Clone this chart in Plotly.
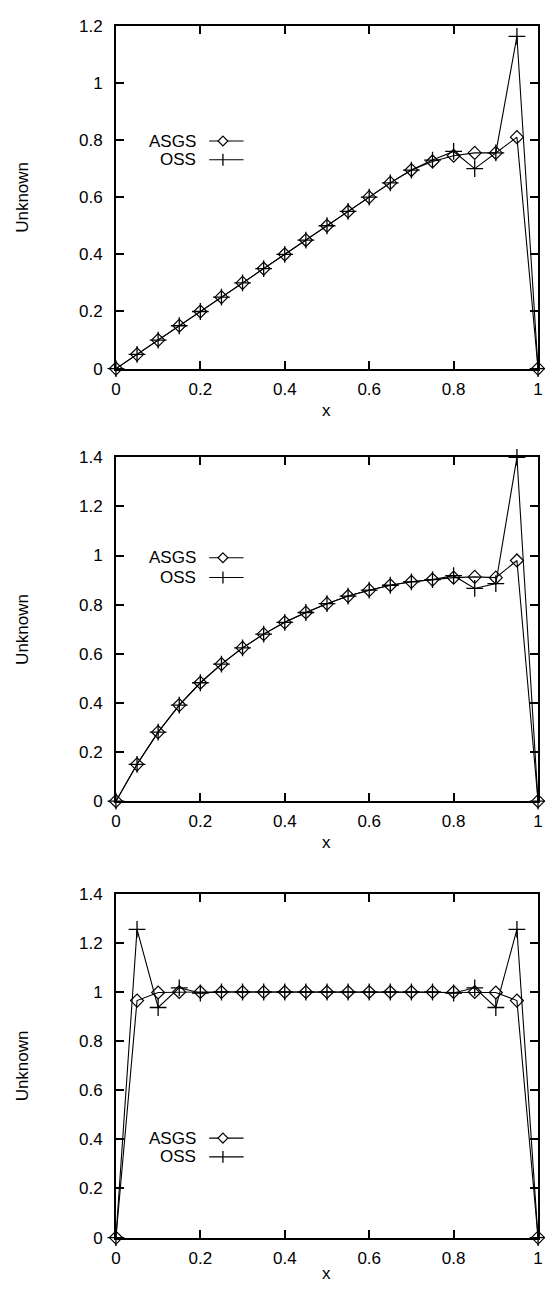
import plotly.graph_objects as go

W, H = 545, 1289

# ---------------- data ----------------
x_nodes = [0.0, 0.05, 0.1, 0.15, 0.2, 0.25, 0.3, 0.35, 0.4, 0.45, 0.5,
           0.55, 0.6, 0.65, 0.7, 0.75, 0.8, 0.85, 0.9, 0.95, 1.0]

asgs_top = [0.0, 0.05, 0.10, 0.15, 0.20, 0.25, 0.30, 0.35, 0.40, 0.45, 0.50,
            0.55, 0.60, 0.65, 0.695, 0.725, 0.745, 0.755, 0.755, 0.81, 0.0]
oss_top = [0.0, 0.05, 0.10, 0.15, 0.20, 0.25, 0.30, 0.35, 0.40, 0.45, 0.50,
           0.55, 0.60, 0.65, 0.695, 0.73, 0.76, 0.70, 0.755, 1.163, 0.0]

asgs_mid = [0.0, 0.150, 0.281, 0.391, 0.482, 0.558, 0.624, 0.680, 0.728, 0.768, 0.804,
            0.835, 0.859, 0.879, 0.893, 0.902, 0.910, 0.913, 0.910, 0.980, 0.0]
oss_mid = [0.0, 0.150, 0.281, 0.391, 0.482, 0.558, 0.624, 0.680, 0.728, 0.768, 0.804,
           0.835, 0.859, 0.879, 0.893, 0.902, 0.918, 0.866, 0.886, 1.40, 0.0]

asgs_bot = [0.0, 0.965, 0.998, 1.0, 1.0, 1.0, 1.0, 1.0, 1.0, 1.0, 1.0,
            1.0, 1.0, 1.0, 1.0, 1.0, 1.0, 1.0, 0.998, 0.965, 0.0]
oss_bot = [0.0, 1.255, 0.937, 1.017, 0.996, 1.0, 1.0, 1.0, 1.0, 1.0, 1.0,
           1.0, 1.0, 1.0, 1.0, 1.0, 0.996, 1.017, 0.937, 1.255, 0.0]

series_names = ["ASGS", "OSS"]
y_title = "Unknown"
x_title = "x"
y_max = [1.2, 1.4, 1.4]

panels_data = [(asgs_top, oss_top), (asgs_mid, oss_mid), (asgs_bot, oss_bot)]

# ---------------- layout (pixel geometry) ----------------
plot_left, plot_right = 113, 543
panel_px = [(17, 365), (455, 804), (898, 1247)]          # top, bottom of plot area
legend_px = [(134, 153), (557, 577), (1146, 1165)]       # ASGS row, OSS row
xtitle_px = [407, 846, 1283]

FONT = "Liberation Sans, Arial, Helvetica, sans-serif"
FS = 17


def fx(p):
    return p / W


def fy(p):
    return 1 - p / H


fig = go.Figure()
shapes = []
annotations = []

for i, (asgs, oss) in enumerate(panels_data):
    n = "" if i == 0 else str(i + 1)
    xa, ya = "x" + n, "y" + n
    top, bot = panel_px[i]

    fig.add_trace(go.Scatter(
        x=x_nodes, y=asgs, xaxis=xa, yaxis=ya, mode="lines+markers",
        name=series_names[0], showlegend=False, cliponaxis=False,
        line=dict(color="black", width=1.1),
        marker=dict(symbol="diamond-open", size=10, color="black",
                    line=dict(color="black", width=1.2))))
    fig.add_trace(go.Scatter(
        x=x_nodes, y=oss, xaxis=xa, yaxis=ya, mode="lines+markers",
        name=series_names[1], showlegend=False, cliponaxis=False,
        line=dict(color="black", width=1.1),
        marker=dict(symbol="cross-thin-open", size=12, color="black",
                    line=dict(color="black", width=1.3))))

    axis_common = dict(showline=True, linecolor="black", linewidth=1.6,
                       mirror="ticks", ticks="inside", ticklen=8, tickwidth=1.5,
                       tickcolor="black", showgrid=False, zeroline=False,
                       ticklabeloverflow="allow",
                       tickfont=dict(family=FONT, size=FS, color="black"))
    fig.layout["xaxis" + n] = dict(
        domain=[fx(plot_left), fx(plot_right)], range=[0, 1], dtick=0.2, tick0=0,
        anchor=ya, ticklabelstandoff=4, **axis_common)
    fig.layout["yaxis" + n] = dict(
        domain=[fy(bot), fy(top)], range=[0, y_max[i]], dtick=0.2, tick0=0,
        anchor=xa, ticklabelstandoff=8, **axis_common)

    # axis titles
    annotations.append(dict(text=y_title, x=fx(18), y=fy((top + bot) / 2),
                            xref="paper", yref="paper", showarrow=False,
                            textangle=-90, xanchor="center", yanchor="middle",
                            font=dict(family=FONT, size=FS, color="black")))
    annotations.append(dict(text=x_title, x=fx((plot_left + plot_right) / 2),
                            y=fy(xtitle_px[i]), xref="paper", yref="paper",
                            showarrow=False, xanchor="center", yanchor="middle",
                            font=dict(family=FONT, size=FS, color="black")))

    # key (text on the left, sample on the right)
    for j, name in enumerate(series_names):
        ky = legend_px[i][j]
        annotations.append(dict(text=name, x=fx(197), y=fy(ky), xref="paper",
                                yref="paper", showarrow=False, xanchor="right",
                                yanchor="middle",
                                font=dict(family=FONT, size=FS, color="black")))
        shapes.append(dict(type="line", xref="paper", yref="paper",
                           x0=fx(208), x1=fx(243), y0=fy(ky), y1=fy(ky),
                           line=dict(color="black", width=1.1)))
        cx, r = 222, 5
        if j == 0:
            path = (f"M {fx(cx)},{fy(ky - r)} L {fx(cx + r)},{fy(ky)} "
                    f"L {fx(cx)},{fy(ky + r)} L {fx(cx - r)},{fy(ky)} Z")
            shapes.append(dict(type="path", xref="paper", yref="paper", path=path,
                               fillcolor="white", line=dict(color="black", width=1.2)))
        else:
            rr = 6
            shapes.append(dict(type="line", xref="paper", yref="paper",
                               x0=fx(cx), x1=fx(cx), y0=fy(ky - rr), y1=fy(ky + rr),
                               line=dict(color="black", width=1.3)))

fig.update_layout(width=W, height=H, margin=dict(l=0, r=0, t=0, b=0),
                  paper_bgcolor="white", plot_bgcolor="white",
                  shapes=shapes, annotations=annotations, showlegend=False,
                  font=dict(family=FONT, size=FS, color="black"))

fig.write_html("out.html",
               config={"displayModeBar": False},
               post_script="document.body.style.margin='0';"
                           "document.body.style.padding='0';"
                           "document.body.style.overflow='hidden';"
                           "document.documentElement.style.overflow='hidden';")
